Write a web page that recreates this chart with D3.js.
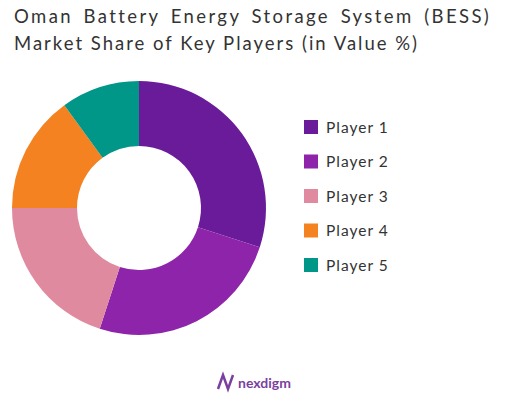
<!DOCTYPE html>
<html><head><meta charset="utf-8">
<script src="https://cdn.jsdelivr.net/npm/d3@7"></script>
<style>body{margin:0;background:#fff}</style></head>
<body><svg id="c" width="510" height="401"></svg>
<script>
const categories=["Player 1","Player 2","Player 3","Player 4","Player 5"];
const values=[30,25,20,15,10];
const colors=["#6a1b9a","#8e24aa","#e08aa0","#f58220","#009688"];
const titleLines=["Oman Battery Energy Storage System (BESS)","Market Share of Key Players (in Value %)"];
const svg=d3.select("#c");
svg.selectAll("text.t").data(titleLines).join("text").attr("class","t")
 .attr("x",14).attr("y",(d,i)=>23+i*27).attr("font-family","Lato, sans-serif")
 .attr("font-size",18.5).attr("letter-spacing",(d,i)=>i?2.0:2.4).attr("word-spacing",(d,i)=>i?0:3.5)
 .attr("fill","#333").text(d=>d);
const pie=d3.pie().sort(null).value(d=>d)(values);
const arc=d3.arc().innerRadius(62).outerRadius(127);
const g=svg.append("g").attr("transform","translate(139,208)");
g.selectAll("path").data(pie).join("path").attr("d",arc).attr("fill",(d,i)=>colors[i]);
const y=d3.scalePoint().domain(categories).range([127,265]);
const lg=svg.append("g");
lg.selectAll("rect").data(categories).join("rect").attr("x",304).attr("y",d=>y(d)-7)
 .attr("width",14).attr("height",14).attr("fill",(d,i)=>colors[i]);
lg.selectAll("text").data(categories).join("text").attr("x",326).attr("y",d=>y(d)+5.5)
 .attr("font-family","Lato, sans-serif").attr("font-size",15.5).attr("letter-spacing",1).attr("fill","#333").text(d=>d);
svg.append("text").attr("x",238).attr("y",388).attr("font-family","Lato, sans-serif")
 .attr("font-size",14).attr("font-weight","bold").attr("fill","#7b3fa0").text("nexdigm");
svg.append("path").attr("d","M218,389 L223,375 L228,389 L233,375").attr("fill","none")
 .attr("stroke","#7b3fa0").attr("stroke-width",2.5);
</script></body></html>
